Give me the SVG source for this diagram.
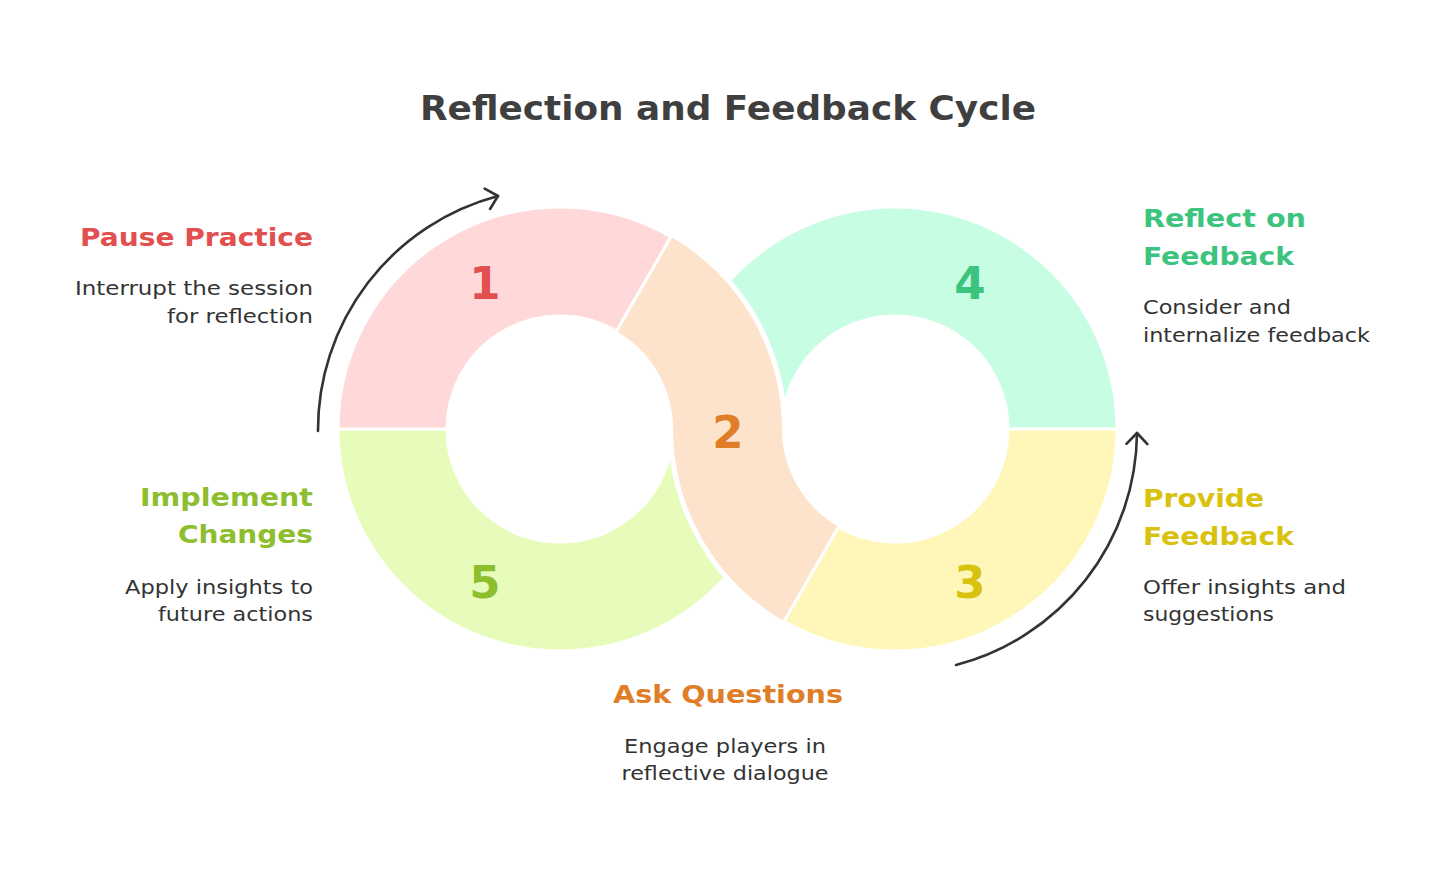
<svg xmlns="http://www.w3.org/2000/svg" width="1456" height="877" viewBox="0 0 1456 877">
  <defs>
    <style>
      .seg { stroke: #ffffff; stroke-width: 3; stroke-linejoin: round; }
      .halo { fill: none; stroke: #ffffff; stroke-width: 10; }
      .cut { fill: none; stroke: #ffffff; stroke-width: 3; }
      .title { font-family: "DejaVu Sans", "Liberation Sans", sans-serif; font-weight: bold; font-size: 34px; fill: #3f3f3f; }
      .head { font-family: "DejaVu Sans", "Liberation Sans", sans-serif; font-weight: bold; font-size: 25px; }
      .body { font-family: "DejaVu Sans", "Liberation Sans", sans-serif; font-size: 20px; fill: #333333; }
      .num { font-family: "DejaVu Sans", "Liberation Sans", sans-serif; font-weight: bold; font-size: 45px; text-anchor: middle; }
      .conn { fill: none; stroke: #333333; stroke-width: 2.6; stroke-linecap: round; }
      .red { fill: #e24f4f; }
      .orange { fill: #e07e27; }
      .yellow { fill: #d9c20e; }
      .green { fill: #3cc47f; }
      .lime { fill: #8dbe2e; }
    </style>
    <marker id="chev" markerUnits="userSpaceOnUse" markerWidth="30" markerHeight="30" refX="0" refY="0" viewBox="-15 -15 30 30" orient="auto" overflow="visible">
      <path d="M-11,-10.5 L0,0 L-11,10.5" fill="none" stroke="#333333" stroke-width="2.6" stroke-linecap="round" stroke-linejoin="round"/>
    </marker>
  </defs>

  <rect width="1456" height="877" fill="#ffffff"/>

  <text class="title" x="728" y="120" text-anchor="middle" textLength="616" lengthAdjust="spacingAndGlyphs">Reflection and Feedback Cycle</text>

  <g id="step4">
    <path class="seg" fill="#c7fde3" d="M673,429 A222,222 0 0 1 1117,429 L1008,429 A113,113 0 0 0 782,429 Z"/>
    <text class="num green" x="970" y="299">4</text>
  </g>
  <g id="step5">
    <path class="seg" fill="#e7fcba" d="M782,429 A222,222 0 0 1 338,429 L447,429 A113,113 0 0 0 673,429 Z"/>
    <text class="num lime" x="485" y="598">5</text>
  </g>
  <g id="step1">
    <path class="seg" fill="#ffd9d9" d="M338,429 A222,222 0 0 1 671,236.74 L616.5,331.14 A113,113 0 0 0 447,429 Z"/>
    <text class="num red" x="485" y="299">1</text>
  </g>
  <g id="step3">
    <path class="seg" fill="#fef7b9" d="M1117,429 A222,222 0 0 1 784,621.26 L838.5,526.86 A113,113 0 0 0 1008,429 Z"/>
    <text class="num yellow" x="970" y="598">3</text>
  </g>
  <g id="step2">
    <path class="halo" d="M696.7,254.1 A222,222 0 0 1 781.2,448.35"/>
    <path class="halo" d="M758.3,603.9 A222,222 0 0 1 673.8,409.65"/>
    <path fill="#fde3cb" d="M671,236.74 A222,222 0 0 1 782,429 A113,113 0 0 0 838.5,526.86 L784,621.26 A222,222 0 0 1 673,429 A113,113 0 0 0 616.5,331.14 Z"/>
    <path class="cut" d="M672.5,234.1 L615,333.7"/>
    <path class="cut" d="M782.5,623.9 L840,524.3"/>
    <text class="num orange" x="728" y="448">2</text>
  </g>

  <g id="label1">
    <text class="head red" x="313" y="246" text-anchor="end" textLength="233" lengthAdjust="spacingAndGlyphs">Pause Practice</text>
    <text class="body" x="313" y="295" text-anchor="end" textLength="238" lengthAdjust="spacingAndGlyphs">Interrupt the session</text>
    <text class="body" x="313" y="323" text-anchor="end" textLength="146" lengthAdjust="spacingAndGlyphs">for reflection</text>
  </g>
  <g id="label2">
    <text class="head orange" x="728" y="703" text-anchor="middle" textLength="230" lengthAdjust="spacingAndGlyphs">Ask Questions</text>
    <text class="body" x="725" y="753" text-anchor="middle" textLength="202" lengthAdjust="spacingAndGlyphs">Engage players in</text>
    <text class="body" x="725" y="780" text-anchor="middle" textLength="207" lengthAdjust="spacingAndGlyphs">reflective dialogue</text>
  </g>
  <g id="label3">
    <text class="head yellow" x="1143" y="507" textLength="121" lengthAdjust="spacingAndGlyphs">Provide</text>
    <text class="head yellow" x="1143" y="545" textLength="151" lengthAdjust="spacingAndGlyphs">Feedback</text>
    <text class="body" x="1143" y="594" textLength="203" lengthAdjust="spacingAndGlyphs">Offer insights and</text>
    <text class="body" x="1143" y="621" textLength="131" lengthAdjust="spacingAndGlyphs">suggestions</text>
  </g>
  <g id="label4">
    <text class="head green" x="1143" y="227" textLength="163" lengthAdjust="spacingAndGlyphs">Reflect on</text>
    <text class="head green" x="1143" y="265" textLength="151" lengthAdjust="spacingAndGlyphs">Feedback</text>
    <text class="body" x="1143" y="314" textLength="148" lengthAdjust="spacingAndGlyphs">Consider and</text>
    <text class="body" x="1143" y="342" textLength="227" lengthAdjust="spacingAndGlyphs">internalize feedback</text>
  </g>
  <g id="label5">
    <text class="head lime" x="313" y="506" text-anchor="end" textLength="173" lengthAdjust="spacingAndGlyphs">Implement</text>
    <text class="head lime" x="313" y="543" text-anchor="end" textLength="135" lengthAdjust="spacingAndGlyphs">Changes</text>
    <text class="body" x="313" y="594" text-anchor="end" textLength="188" lengthAdjust="spacingAndGlyphs">Apply insights to</text>
    <text class="body" x="313" y="621" text-anchor="end" textLength="155" lengthAdjust="spacingAndGlyphs">future actions</text>
  </g>

  <g id="connectors">
    <path class="conn" marker-end="url(#chev)" d="M318,431 A242,242 0 0 1 498,196"/>
    <path class="conn" marker-end="url(#chev)" d="M956,665 A242,242 0 0 0 1137,433"/>
  </g>
</svg>
